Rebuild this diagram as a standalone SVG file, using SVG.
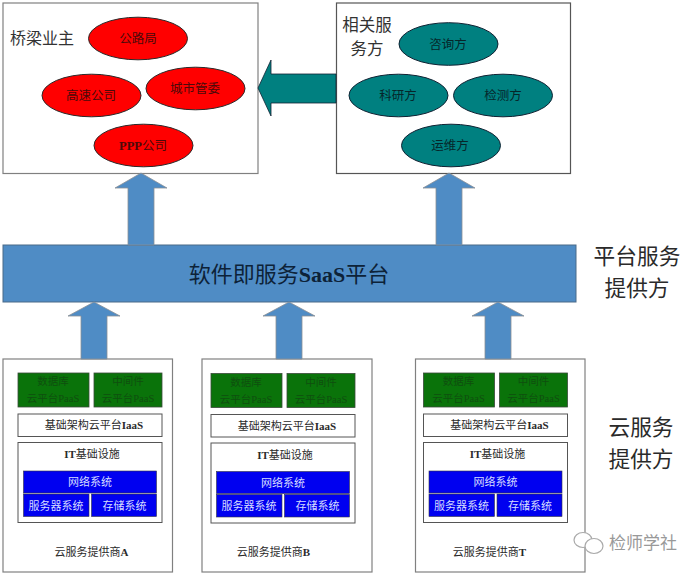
<svg xmlns="http://www.w3.org/2000/svg" width="700" height="575" viewBox="0 0 700 575">
<defs>
<style>
text{font-family:"Liberation Serif","Noto Sans CJK SC",serif;text-anchor:middle}
.panel{fill:#fff;stroke:#808080;stroke-width:1.2}
.el{font-size:12.5px}
.onred{fill:#4a0a0a}
.onteal{fill:#06262a}
.big{font-size:16px;fill:#333}
.side{font-size:21.7px;fill:#2a2a2a}
.red{fill:#f00;stroke:#2a2a2a;stroke-width:1}
.teal{fill:#008080;stroke:#123;stroke-width:1}
.blue{fill:#4f8cc5;stroke:#8a8f95;stroke-width:.8}
.green{fill:#0a730a;stroke:#3a4a3a;stroke-width:.8}
.bl{fill:#0000f0;stroke:#334;stroke-width:.6}
.box{fill:#fff;stroke:#555;stroke-width:1}
.g{font-size:10.500px;fill:#0f4f0f}
.b{font-size:11px;fill:#d5dcff}
.k{font-size:11px;fill:#2a2a2a}
.lat{font-weight:bold}
</style>
<g id="stack">
<rect class="green" x="18" y="373" width="71" height="34"/>
<rect class="green" x="94" y="373" width="68" height="34"/>
<text class="g" x="53" y="385">数据库</text><text class="g" x="53" y="402">云平台PaaS</text>
<text class="g" x="128" y="385">中间件</text><text class="g" x="128" y="402">云平台PaaS</text>
<rect class="box" x="18" y="414" width="144" height="22.500"/>
<text class="k" x="94" y="429">基础架构云平台<tspan class="lat">IaaS</tspan></text>
<rect class="box" x="18" y="442.500" width="144" height="80"/>
<text class="k" x="92" y="458"><tspan class="lat">IT</tspan>基础设施</text>
<rect class="bl" x="23.500" y="471" width="133" height="22"/>
<text class="b" x="90" y="486">网络系统</text>
<rect class="bl" x="23.500" y="494" width="65.500" height="22.500"/>
<rect class="bl" x="91.500" y="494" width="65" height="22.500"/>
<text class="b" x="56" y="509.500">服务器系统</text>
<text class="b" x="124.500" y="509.500">存储系统</text>
</g>
</defs>
<rect width="700" height="575" fill="#fff"/>
<g id="bridge-owner">
<rect class="panel" x="3" y="3" width="255" height="170.500"/>
<text class="big" x="42" y="44">桥梁业主</text>
</g>
<g id="n-gonglu"><ellipse class="red" cx="138" cy="38.500" rx="49.500" ry="21.300"/><text class="el onred" x="138" y="43">公路局</text></g>
<g id="n-gaosu"><ellipse class="red" cx="91.500" cy="95.500" rx="49.500" ry="21.300"/><text class="el onred" x="91" y="100">高速公司</text></g>
<g id="n-chengshi"><ellipse class="red" cx="195.500" cy="88.500" rx="49.500" ry="21.300"/><text class="el onred" x="195" y="93">城市管委</text></g>
<g id="n-ppp"><ellipse class="red" cx="143.500" cy="145.500" rx="49.500" ry="21.300"/><text class="el onred" x="143" y="150"><tspan class="lat">PPP</tspan>公司</text></g>
<g id="related-services">
<rect class="panel" style="stroke:#555" x="336.500" y="3" width="234" height="170.500"/>
<text class="big" x="367" y="31" style="font-size:16.500px">相关服</text>
<text class="big" x="367" y="55" style="font-size:16.500px">务方</text>
</g>
<g id="n-zixun"><ellipse class="teal" cx="448.500" cy="44" rx="49.500" ry="21.300"/><text class="el onteal" x="448" y="49">咨询方</text></g>
<g id="n-keyan"><ellipse class="teal" cx="398.500" cy="95.500" rx="49.500" ry="21.300"/><text class="el onteal" x="398" y="100">科研方</text></g>
<g id="n-jiance"><ellipse class="teal" cx="503" cy="95.500" rx="49.500" ry="21.300"/><text class="el onteal" x="503" y="100">检测方</text></g>
<g id="n-yunwei"><ellipse class="teal" cx="451" cy="145.500" rx="49.500" ry="21.300"/><text class="el onteal" x="450" y="150">运维方</text></g>
<g id="saas">
<rect x="3" y="245" width="573" height="57" fill="#4f8cc5" stroke="#4a6a88"/>
<text x="289" y="282" font-size="22" fill="#0d2238">软件即服务<tspan class="lat">SaaS</tspan>平台</text>
</g>
<g id="label-platform"><text class="side" x="637" y="264">平台服务</text><text class="side" x="637" y="296">提供方</text></g>
<g id="label-cloud"><text class="side" x="641" y="435">云服务</text><text class="side" x="641" y="467">提供方</text></g>
<g id="provider-a"><rect class="panel" x="3" y="359" width="169.500" height="213"/><use href="#stack"/><text class="k" x="91.500" y="556">云服务提供商<tspan class="lat">A</tspan></text></g>
<g id="provider-b"><rect class="panel" x="202" y="359" width="170" height="213"/><use href="#stack" x="193" y="0.500"/><text class="k" x="273.500" y="556">云服务提供商<tspan class="lat">B</tspan></text></g>
<g id="provider-t"><rect class="panel" x="415.500" y="359" width="169.500" height="213"/><use href="#stack" x="405.500"/><text class="k" x="489.500" y="556">云服务提供商<tspan class="lat">T</tspan></text></g>
<g id="connectors">
<path class="blue" d="M128 245V188H115L141 173L167 188H154V245Z"/>
<path class="blue" d="M436 245V188H423L449 173L475 188H462V245Z"/>
<path class="blue" d="M81 359V316H68L94 302L120 316H107V359Z"/>
<path class="blue" d="M276 359V316H263L289 302L315 316H302V359Z"/>
<path class="blue" d="M485 359V316H472L498 302L524 316H511V359Z"/>
<path d="M336 74V103H271V116L258 88L271 60V74Z" fill="#008080" stroke="#123" stroke-width=".8"/>
</g>
<g id="watermark">
<ellipse cx="583" cy="540" rx="9" ry="7.500" fill="#fff" stroke="#aaa" stroke-width="1.200"/>
<ellipse cx="594" cy="546" rx="9" ry="7.500" fill="#fff" stroke="#aaa" stroke-width="1.200"/>
<text x="643" y="549" font-size="17" fill="#999">检师学社</text>
</g>
</svg>
